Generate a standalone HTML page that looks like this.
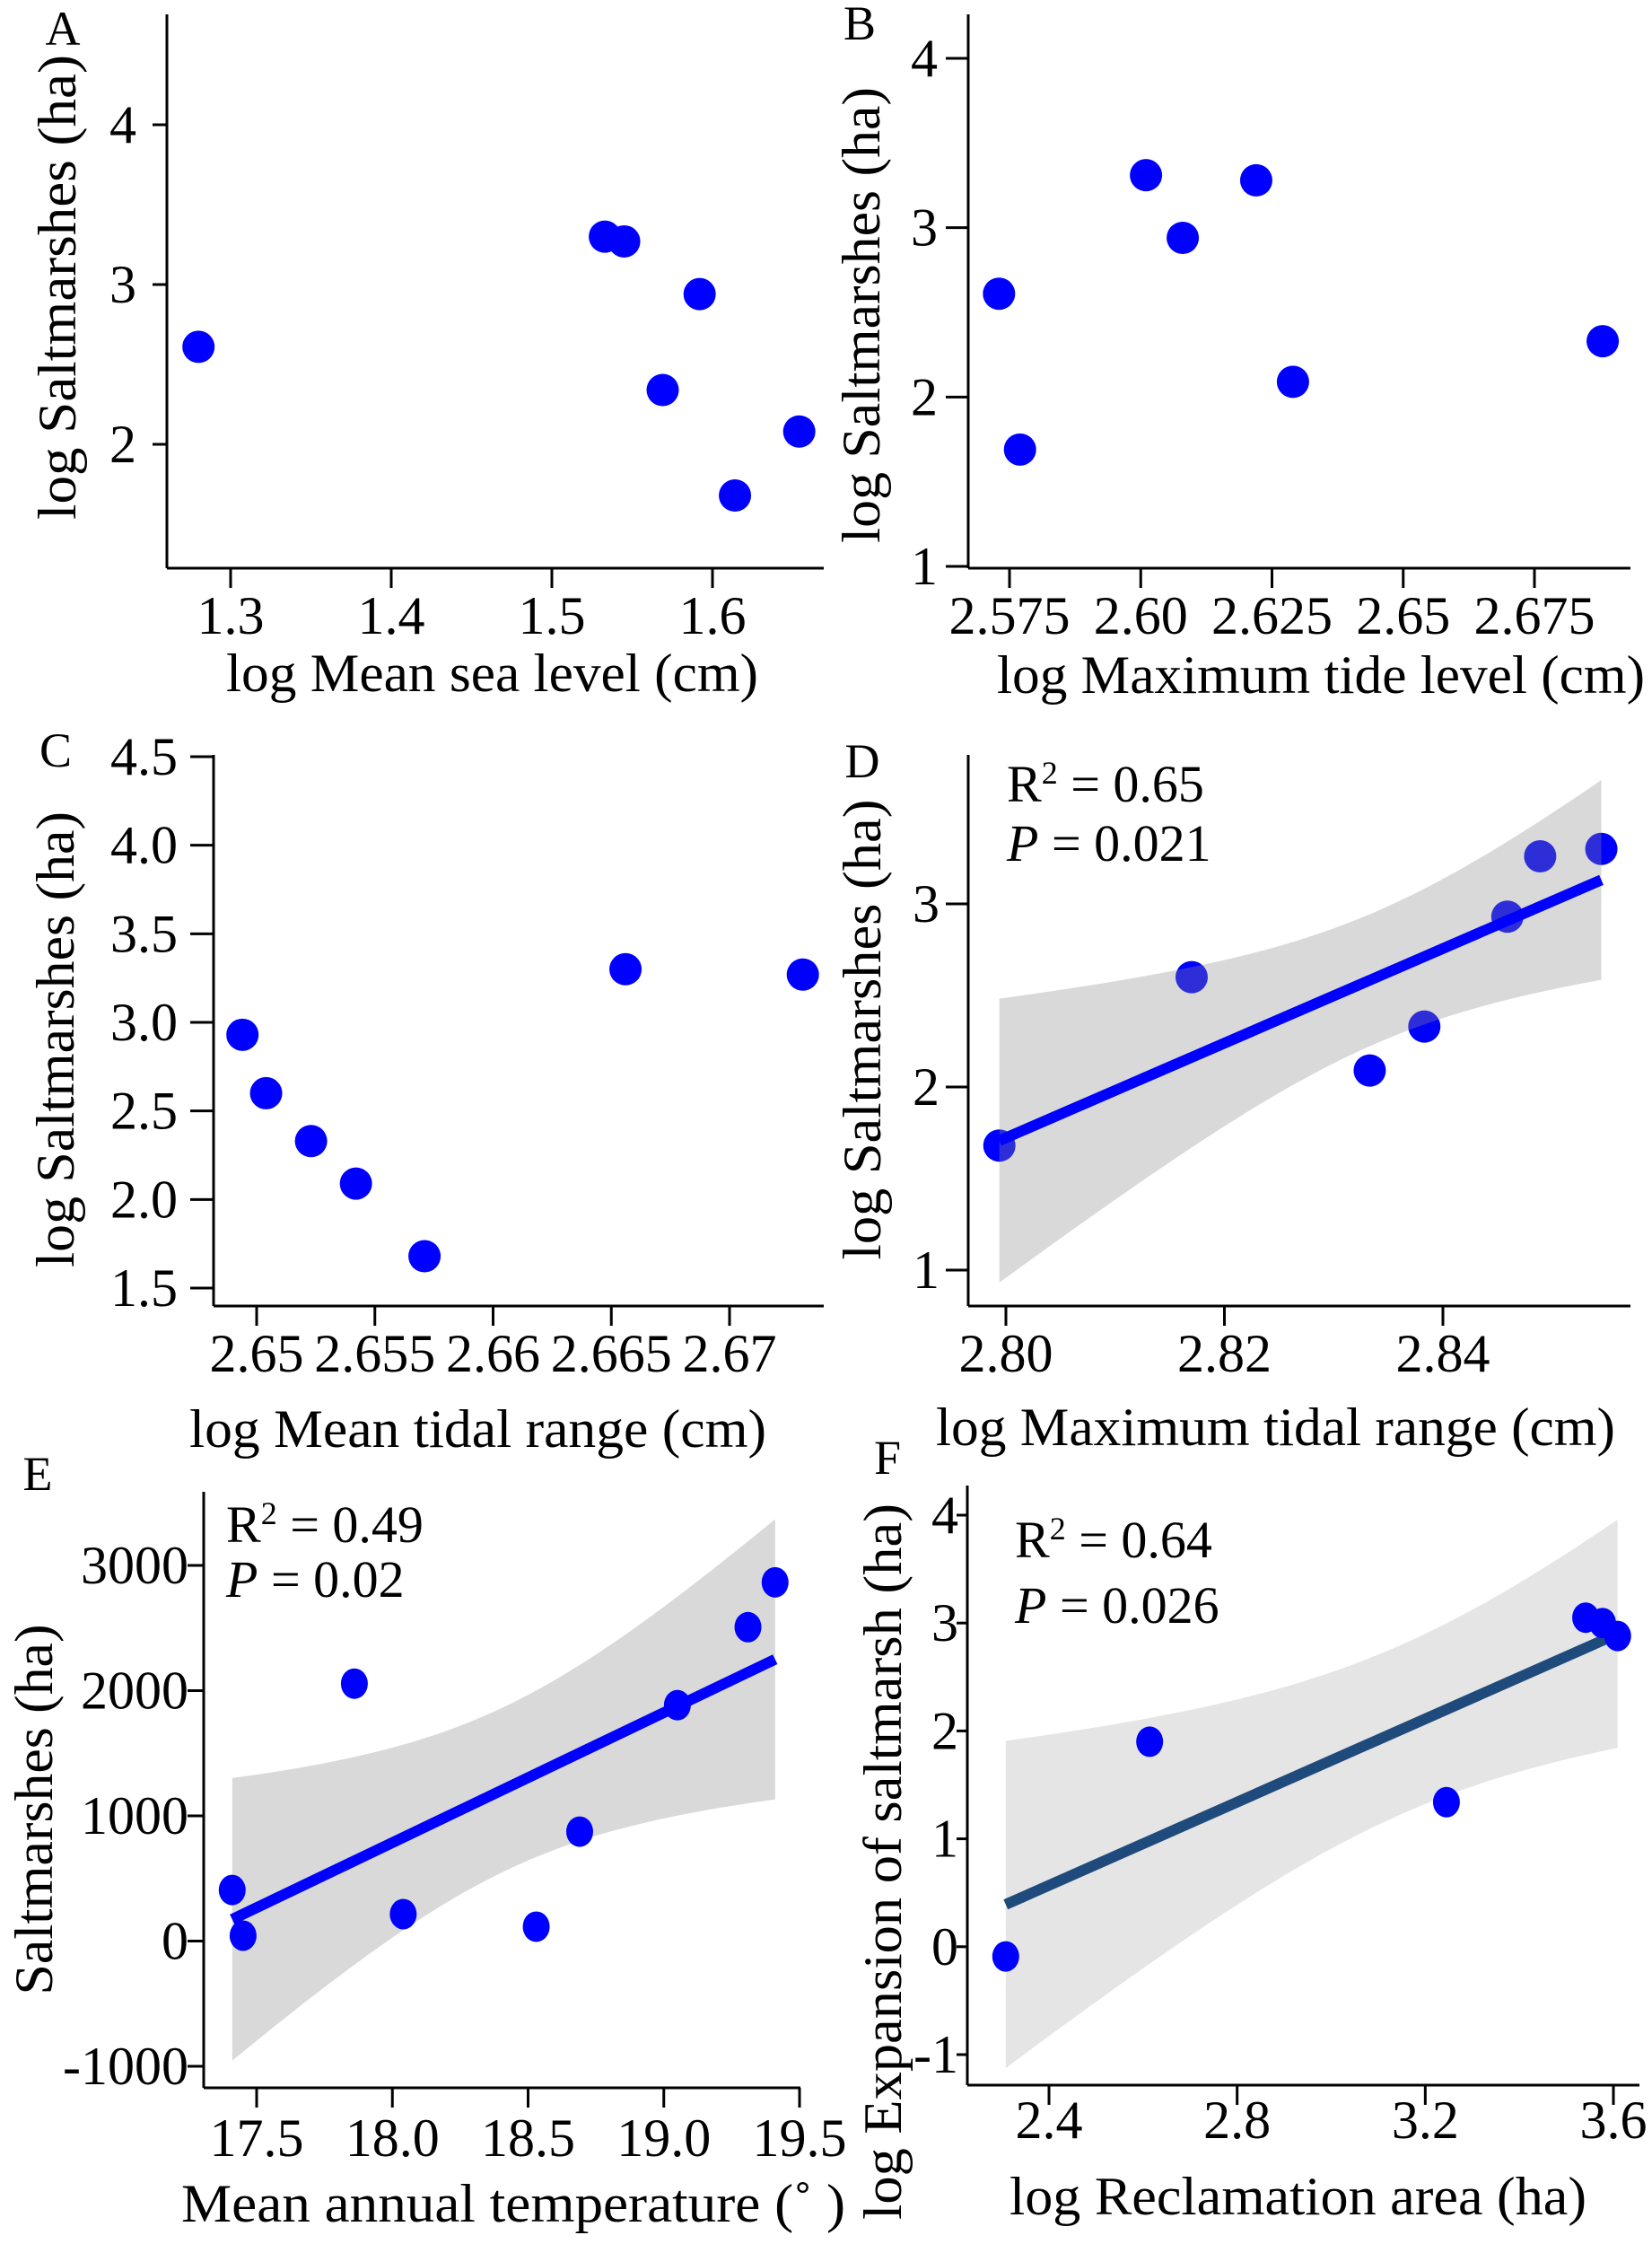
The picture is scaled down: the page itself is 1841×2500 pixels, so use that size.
<!DOCTYPE html>
<html><head><meta charset="utf-8">
<style>
html,body{margin:0;padding:0;background:#fff;}
svg{display:block;}
svg text{font-family:"Liberation Serif","Times New Roman",Times,serif;}
</style></head>
<body>
<svg id="fig" width="1841" height="2500" viewBox="0 0 1841 2500" xmlns="http://www.w3.org/2000/svg" font-family="Liberation Serif, Times New Roman, serif"></svg>
<script>
// ---- Panel A data ----
const aX = [1.28, 1.533, 1.545, 1.592, 1.569, 1.654, 1.614];
const aY = [2.61, 3.30, 3.27, 2.94, 2.34, 2.08, 1.68];
const aXTicks = [1.3, 1.4, 1.5, 1.6];
const aXTickLabels = ["1.3", "1.4", "1.5", "1.6"];
const aYTicks = [2, 3, 4];
const aYTickLabels = ["2", "3", "4"];
// ---- Panel B data ----
const bX = [2.573, 2.577, 2.601, 2.608, 2.622, 2.629, 2.688];
const bY = [2.61, 1.69, 3.31, 2.94, 3.28, 2.09, 2.33];
const bXTicks = [2.575, 2.6, 2.625, 2.65, 2.675];
const bXTickLabels = ["2.575", "2.60", "2.625", "2.65", "2.675"];
const bYTicks = [1, 2, 3, 4];
const bYTickLabels = ["1", "2", "3", "4"];
// ---- Panel C data ----
const cX = [2.6494, 2.6504, 2.6523, 2.6542, 2.6571, 2.6656, 2.6731];
const cY = [2.93, 2.60, 2.33, 2.09, 1.68, 3.30, 3.27];
const cXTicks = [2.65, 2.655, 2.66, 2.665, 2.67];
const cXTickLabels = ["2.65", "2.655", "2.66", "2.665", "2.67"];
const cYTicks = [1.5, 2.0, 2.5, 3.0, 3.5, 4.0, 4.5];
const cYTickLabels = ["1.5", "2.0", "2.5", "3.0", "3.5", "4.0", "4.5"];
// ---- Panel D data ----
const dX = [2.7994, 2.817, 2.8333, 2.8383, 2.8459, 2.8489, 2.8545];
const dY = [1.68, 2.60, 2.09, 2.33, 2.93, 3.26, 3.30];
const dXTicks = [2.80, 2.82, 2.84];
const dXTickLabels = ["2.80", "2.82", "2.84"];
const dYTicks = [1, 2, 3];
const dYTickLabels = ["1", "2", "3"];
// ---- Panel E data ----
const eX = [17.41, 17.45, 17.86, 18.04, 18.53, 18.69, 19.05, 19.31, 19.41];
const eY = [408, 43, 2056, 215, 115, 874, 1884, 2507, 2865];
const eXTicks = [17.5, 18.0, 18.5, 19.0, 19.5];
const eXTickLabels = ["17.5", "18.0", "18.5", "19.0", "19.5"];
const eYTicks = [-1000, 0, 1000, 2000, 3000];
const eYTickLabels = ["-1000", "0", "1000", "2000", "3000"];
// ---- Panel F data ----
const fX = [2.308, 2.614, 3.245, 3.541, 3.577, 3.609];
const fY = [-0.09, 1.90, 1.34, 3.05, 3.00, 2.88];
const fXTicks = [2.4, 2.8, 3.2, 3.6];
const fXTickLabels = ["2.4", "2.8", "3.2", "3.6"];
const fYTicks = [-1, 0, 1, 2, 3, 4];
const fYTickLabels = ["-1", "0", "1", "2", "3", "4"];

const NS = "http://www.w3.org/2000/svg";
const svg = document.getElementById("fig");
const FONT = "Liberation Serif, Times New Roman, serif";
function mk(tag, attrs, parent) {
  const e = document.createElementNS(NS, tag);
  for (const k in attrs) e.setAttribute(k, attrs[k]);
  (parent || svg).appendChild(e);
  return e;
}
function txt(parent, s, attrs) { attrs["font-family"] = FONT; const t = mk("text", attrs, parent); t.textContent = s; return t; }

function linScale(v0, p0, v1, p1) { return v => p0 + (v - v0) * (p1 - p0) / (v1 - v0); }

function fitBand(xs, ys, tval) {
  const n = xs.length;
  const mx = xs.reduce((a, b) => a + b, 0) / n, my = ys.reduce((a, b) => a + b, 0) / n;
  let sxx = 0, sxy = 0;
  for (let i = 0; i < n; i++) { sxx += (xs[i] - mx) ** 2; sxy += (xs[i] - mx) * (ys[i] - my); }
  const b = sxy / sxx, a = my - b * mx;
  let sse = 0;
  for (let i = 0; i < n; i++) sse += (ys[i] - a - b * xs[i]) ** 2;
  const s = Math.sqrt(sse / (n - 2));
  return { pred: x => a + b * x, half: x => tval * s * Math.sqrt(1 / n + (x - mx) ** 2 / sxx) };
}

function panel(cfg) {
  const g = mk("g", {});
  
  
  const sx = linScale(cfg.xa[0], cfg.xa[1], cfg.xb[0], cfg.xb[1]);
  const sy = linScale(cfg.ya[0], cfg.ya[1], cfg.yb[0], cfg.yb[1]);
  function drawPoints() {
    const pts = mk("g", {}, g);
    
    
    cfg.xs.forEach((v, i) => {
      const c = mk("ellipse", { cx: sx(v), cy: sy(cfg.ys[i]), rx: cfg.rx, ry: cfg.ry, fill: "#0000ff" }, pts);
      
      
    });
  }
  if (!cfg.pointsOnTop) drawPoints();
  if (cfg.fit) {
    const f = fitBand(cfg.xs, cfg.ys, cfg.t);
    const x0 = Math.min(...cfg.xs), x1 = Math.max(...cfg.xs);
    const N = 60; let up = [], lo = [];
    for (let i = 0; i <= N; i++) {
      const x = x0 + (x1 - x0) * i / N;
      up.push(sx(x).toFixed(1) + "," + sy(f.pred(x) + f.half(x)).toFixed(1));
      lo.push(sx(x).toFixed(1) + "," + sy(f.pred(x) - f.half(x)).toFixed(1));
    }
    const band = mk("polygon", { points: up.concat(lo.reverse()).join(" "), fill: cfg.bandFill }, g);
    
    
    const ln = mk("line", { x1: sx(x0), y1: sy(f.pred(x0)), x2: sx(x1), y2: sy(f.pred(x1)), stroke: cfg.lineColor, "stroke-width": 12 }, g);
    
    
  }
  if (cfg.pointsOnTop) drawPoints();
  const ax = mk("g", { stroke: "#000", "stroke-width": 3, fill: "none" }, g);
  
  
  mk("line", { x1: cfg.ax, y1: cfg.top, x2: cfg.ax, y2: cfg.ay }, ax);
  mk("line", { x1: cfg.ax, y1: cfg.ay, x2: cfg.right, y2: cfg.ay }, ax);
  cfg.xt.forEach((v, i) => {
    mk("line", { x1: sx(v), y1: cfg.ay, x2: sx(v), y2: cfg.ay + 22 }, ax);
    const t = txt(g, cfg.xtl[i], { x: sx(v), y: cfg.xlabY, "font-size": 60, "text-anchor": "middle" });
    
    
  });
  cfg.yt.forEach((v, i) => {
    mk("line", { x1: cfg.ax - cfg.tickL, y1: sy(v), x2: cfg.ax, y2: sy(v) }, ax);
    const t = txt(g, cfg.ytl[i], { x: cfg.ylabR, y: sy(v) + 20, "font-size": 60, "text-anchor": "end" });
    
    
  });
  const xt = txt(g, cfg.xTitle, { x: cfg.xTitleX, y: cfg.xTitleY, "font-size": 60, textLength: cfg.xTitleW, lengthAdjust: "spacingAndGlyphs" });
  
  
  const yt = txt(g, cfg.yTitle, { x: 0, y: 0, "font-size": 60, "text-anchor": "middle", textLength: cfg.yTitleW, lengthAdjust: "spacingAndGlyphs",
    transform: `translate(${cfg.yTitleX},${cfg.yTitleY}) rotate(-90)` });
  
  
  const lt = txt(g, cfg.letter, { x: cfg.letterX, y: cfg.letterY, "font-size": 54, "text-anchor": "middle" });
  
  
  if (cfg.stats) {
    const r = txt(g, "", { x: cfg.stats.x, y: cfg.stats.y1, "font-size": 58 });
    
    
    r.innerHTML = 'R<tspan dy="-20" font-size="36">2</tspan><tspan dy="20"> = ' + cfg.stats.r + '</tspan>';
    const p = txt(g, "", { x: cfg.stats.x, y: cfg.stats.y2, "font-size": 58 });
    
    
    p.innerHTML = '<tspan font-style="italic">P</tspan> = ' + cfg.stats.p;
  }
}

panel({ name: "panel-a", letter: "A", letterX: 70, letterY: 50, xs: aX, ys: aY, rx: 18, ry: 18,
  xa: [1.3, 257], xb: [1.6, 794], ya: [4, 139], yb: [2, 495],
  ax: 186, ay: 633, top: 16, right: 918, tickL: 16, ylabR: 152, xlabY: 706,
  xt: aXTicks, xtl: aXTickLabels, yt: aYTicks, ytl: aYTickLabels,
  xTitle: "log Mean sea level (cm)", xTitleX: 252, xTitleY: 770, xTitleW: 593,
  yTitle: "log Saltmarshes (ha)", yTitleX: 84, yTitleY: 320, yTitleW: 518 });

panel({ name: "panel-b", letter: "B", letterX: 958, letterY: 44, xs: bX, ys: bY, rx: 18, ry: 18,
  xa: [2.575, 1125], xb: [2.675, 1710], ya: [4, 65], yb: [1, 631],
  ax: 1079, ay: 633, top: 16, right: 1817, tickL: 25, ylabR: 1045, xlabY: 706,
  xt: bXTicks, xtl: bXTickLabels, yt: bYTicks, ytl: bYTickLabels,
  xTitle: "log Maximum tide level (cm)", xTitleX: 1111, xTitleY: 772, xTitleW: 722,
  yTitle: "log Saltmarshes (ha)", yTitleX: 980, yTitleY: 351, yTitleW: 508 });

panel({ name: "panel-c", letter: "C", letterX: 62, letterY: 854, xs: cX, ys: cY, rx: 18, ry: 18,
  xa: [2.65, 286], xb: [2.67, 813], ya: [4.5, 843], yb: [1.5, 1435],
  ax: 238, ay: 1455, top: 841, right: 918, tickL: 26, ylabR: 198, xlabY: 1528,
  xt: cXTicks, xtl: cXTickLabels, yt: cYTicks, ytl: cYTickLabels,
  xTitle: "log Mean tidal range (cm)", xTitleX: 211, xTitleY: 1612, xTitleW: 643,
  yTitle: "log Saltmarshes (ha)", yTitleX: 82, yTitleY: 1158, yTitleW: 508 });

panel({ name: "panel-d", letter: "D", letterX: 961, letterY: 866, xs: dX, ys: dY, rx: 18, ry: 18,
  xa: [2.80, 1121], xb: [2.84, 1608], ya: [3, 1007], yb: [1, 1415],
  ax: 1079, ay: 1455, top: 841, right: 1817, tickL: 25, ylabR: 1047, xlabY: 1528,
  xt: dXTicks, xtl: dXTickLabels, yt: dYTicks, ytl: dYTickLabels,
  fit: true, t: 2.571, bandFill: "rgba(140,140,140,0.33)", lineColor: "#0000ff",
  stats: { x: 1122, y1: 893, y2: 959, r: "0.65", p: "0.021" },
  xTitle: "log Maximum tidal range (cm)", xTitleX: 1043, xTitleY: 1610, xTitleW: 757,
  yTitle: "log Saltmarshes (ha)", yTitleX: 981, yTitleY: 1147, yTitleW: 513 });

panel({ name: "panel-e", letter: "E", letterX: 42, letterY: 1660, xs: eX, ys: eY, rx: 15, ry: 17,
  xa: [17.5, 286], xb: [19.5, 891], ya: [3000, 1744], yb: [-1000, 2302],
  ax: 227, ay: 2326, top: 1662, right: 892, tickL: 18, ylabR: 210, xlabY: 2402,
  xt: eXTicks, xtl: eXTickLabels, yt: eYTicks, ytl: eYTickLabels,
  fit: true, pointsOnTop: true, t: 2.365, bandFill: "#d9d9d9", lineColor: "#0000ff",
  stats: { x: 252, y1: 1718, y2: 1779, r: "0.49", p: "0.02" },
  xTitle: "Mean annual temperature (\u02da   )", xTitleX: 202, xTitleY: 2475, xTitleW: 740,
  yTitle: "Saltmarshes (ha)", yTitleX: 58, yTitleY: 2016, yTitleW: 413 });

panel({ name: "panel-f", letter: "F", letterX: 989, letterY: 1642, xs: fX, ys: fY, rx: 15, ry: 17,
  xa: [2.4, 1169], xb: [3.6, 1798], ya: [4, 1688], yb: [-1, 2289],
  ax: 1078, ay: 2323, top: 1655, right: 1827, tickL: 12, ylabR: 1068, xlabY: 2382,
  xt: fXTicks, xtl: fXTickLabels, yt: fYTicks, ytl: fYTickLabels,
  fit: true, pointsOnTop: true, t: 2.776, bandFill: "#e5e5e5", lineColor: "#1f4a7c",
  stats: { x: 1131, y1: 1735, y2: 1808, r: "0.64", p: "0.026" },
  xTitle: "log Reclamation area (ha)", xTitleX: 1125, xTitleY: 2467, xTitleW: 643,
  yTitle: "log Expansion of saltmarsh (ha)", yTitleX: 1004, yTitleY: 2074, yTitleW: 798 });
</script>
</body></html>
